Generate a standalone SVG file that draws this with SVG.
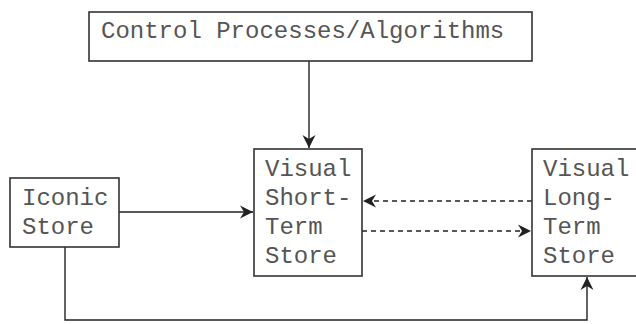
<svg xmlns="http://www.w3.org/2000/svg" width="636" height="324" viewBox="0 0 636 324">
<style>
.box{fill:#fff;stroke:#333;stroke-width:1.6}
.t{font-family:"Liberation Mono","Courier New",monospace;font-size:24px;fill:#555}
.c{fill:none;stroke:#222;stroke-width:1.4}
.d{stroke-dasharray:5,4}
</style>
<defs>
<marker id="ah" markerWidth="14" markerHeight="14" refX="13" refY="7" orient="auto" markerUnits="userSpaceOnUse">
<path d="M0,0.5 L13,7 L0,13.5 L4,7 Z" fill="#222"/>
</marker>
</defs>
<rect width="636" height="324" fill="#fff"/>
<g id="connectors">
<path class="c" d="M309,61 V148" marker-end="url(#ah)"/>
<path class="c" d="M119,212 H253" marker-end="url(#ah)"/>
<path class="c d" d="M532,201 H363" marker-end="url(#ah)"/>
<path class="c d" d="M362,231 H531" marker-end="url(#ah)"/>
<path class="c" d="M65,247 V320 H587 V277" marker-end="url(#ah)"/>
</g>
<g id="control">
<rect class="box" x="89" y="12" width="443" height="49"/>
<text class="t" x="101" y="38">Control Processes/Algorithms</text>
</g>
<g id="iconic">
<rect class="box" x="10" y="178" width="109" height="69"/>
<text class="t" x="22" y="205">Iconic</text>
<text class="t" x="22" y="234">Store</text>
</g>
<g id="vsts">
<rect class="box" x="254" y="149" width="108" height="127"/>
<text class="t" x="265" y="176">Visual</text>
<text class="t" x="265" y="205">Short-</text>
<text class="t" x="265" y="234">Term</text>
<text class="t" x="265" y="263">Store</text>
</g>
<g id="vlts">
<rect class="box" x="532" y="149" width="106" height="127"/>
<text class="t" x="543" y="176">Visual</text>
<text class="t" x="543" y="205">Long-</text>
<text class="t" x="543" y="234">Term</text>
<text class="t" x="543" y="263">Store</text>
</g>
</svg>
